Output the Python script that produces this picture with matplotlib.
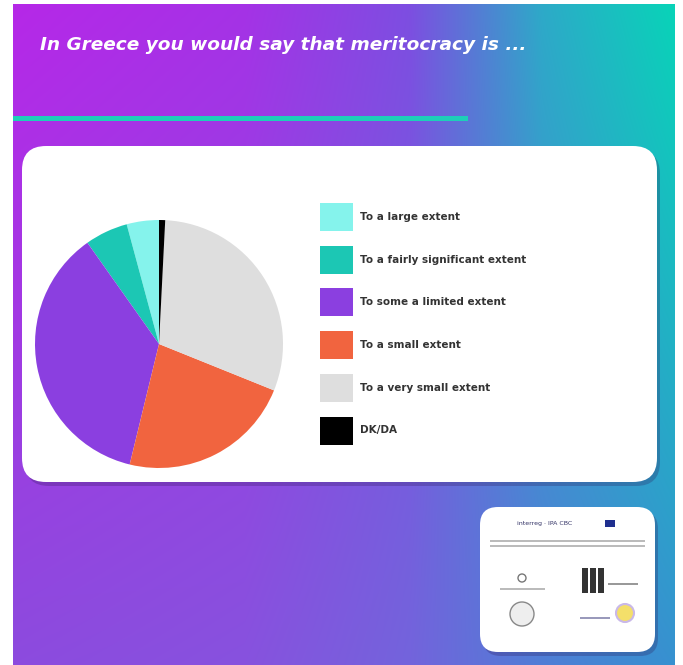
import matplotlib.pyplot as plt
import numpy as np
from matplotlib.patches import FancyBboxPatch, Rectangle, Circle

W, H = 683, 665

title = "In Greece you would say that meritocracy is ..."
labels = [
    "To a large extent",
    "To a fairly significant extent",
    "To some a limited extent",
    "To a small extent",
    "To a very small extent",
    "DK/DA",
]
shares = [4.2, 5.6, 36.4, 22.7, 30.3, 0.8]
colors = ["#85f3ec", "#1cc7b4", "#8b3fe0", "#f1643f", "#dedede", "#000000"]


def gradient(w, h):
    u = np.linspace(0, 1, w)
    v = np.linspace(0, 1, h)[:, None, None]
    stops = [0.0, 0.35, 0.6, 0.8, 1.0]
    top = [(182, 40, 232), (165, 50, 230), (125, 78, 225), (45, 170, 200), (8, 212, 184)]
    bot = [(140, 75, 222), (135, 82, 222), (115, 100, 220), (80, 125, 214), (55, 145, 208)]
    top_row = np.stack([np.interp(u, stops, [c[i] for c in top]) for i in range(3)], -1)
    bot_row = np.stack([np.interp(u, stops, [c[i] for c in bot]) for i in range(3)], -1)
    img = top_row[None] * (1 - v) + bot_row[None] * v
    return img / 255.0


def card(ax, x0, y0, x1, y1, r):
    shadow = FancyBboxPatch((x0 + 3, y0 + 4), x1 - x0, y1 - y0,
                            boxstyle=f"round,pad=0,rounding_size={r}",
                            fc="#2a1050", ec="none", alpha=0.25, zorder=2)
    box = FancyBboxPatch((x0, y0), x1 - x0, y1 - y0,
                         boxstyle=f"round,pad=0,rounding_size={r}",
                         fc="white", ec="none", zorder=3)
    ax.add_patch(shadow)
    ax.add_patch(box)


fig = plt.figure(figsize=(W / 100, H / 100), dpi=100)
fig.patch.set_facecolor("white")
bg = fig.add_axes([0, 0, 1, 1])
bg.set_xlim(0, W)
bg.set_ylim(H, 0)
bg.axis("off")

bg.imshow(gradient(662, 661), extent=(13, 675, 665, 4), aspect="auto", zorder=0)

bg.text(40, 45, title, color="white", fontsize=13.3, fontweight="bold",
        fontstyle="italic", family=["DejaVu Sans"],
        va="center", ha="left", zorder=5)
bg.add_patch(Rectangle((13, 116), 455, 5, fc="#1dcfb8", ec="none", zorder=1))

card(bg, 22, 146, 657, 482, 24)
card(bg, 480, 507, 655, 652, 18)

# legend
for i, (lab, col) in enumerate(zip(labels, colors)):
    yc = 217 + i * 42.7
    bg.add_patch(Rectangle((320, yc - 14), 33, 28, fc=col, ec="none", zorder=4))
    bg.text(360, yc, lab, fontsize=7.5, color="#333333", fontweight="semibold",
            va="center", ha="left", zorder=5)

# logo block (approximate)
bg.text(545, 524, "interreg · IPA CBC", fontsize=4.5, color="#333366",
        ha="center", va="center", zorder=5)
bg.add_patch(Rectangle((605, 520), 10, 7, fc="#1f2f8f", ec="none", zorder=5))
bg.add_patch(Rectangle((490, 540), 155, 2, fc="#bbbbbb", ec="none", zorder=5))
bg.add_patch(Rectangle((490, 545), 155, 2, fc="#bbbbbb", ec="none", zorder=5))
bg.add_patch(Circle((522, 578), 4, fc="none", ec="#777777", lw=1, zorder=5))
bg.add_patch(Rectangle((500, 588), 45, 2, fc="#bbbbbb", ec="none", zorder=5))
for k in range(3):
    bg.add_patch(Rectangle((582 + k * 8, 568), 6, 25, fc="#333333", ec="none", zorder=5))
bg.add_patch(Rectangle((608, 583), 30, 2, fc="#999999", ec="none", zorder=5))
bg.add_patch(Circle((522, 614), 12, fc="#eeeeee", ec="#888888", lw=1, zorder=5))
bg.add_patch(Circle((625, 613), 9, fc="#f4df6a", ec="#c9b8e8", lw=1.5, zorder=5))
bg.add_patch(Rectangle((580, 617), 30, 2, fc="#9999bb", ec="none", zorder=5))

# pie
cx, cy, r = 159, 344, 124
pax = fig.add_axes([(cx - r) / W, (H - cy - r) / H, 2 * r / W, 2 * r / H])
pax.pie(shares, colors=colors, startangle=90, counterclock=True,
        wedgeprops=dict(linewidth=0))
pax.set_xlim(-1, 1)
pax.set_ylim(-1, 1)
pax.set_zorder(6)

fig.savefig("out.png", dpi=100, facecolor="white")
